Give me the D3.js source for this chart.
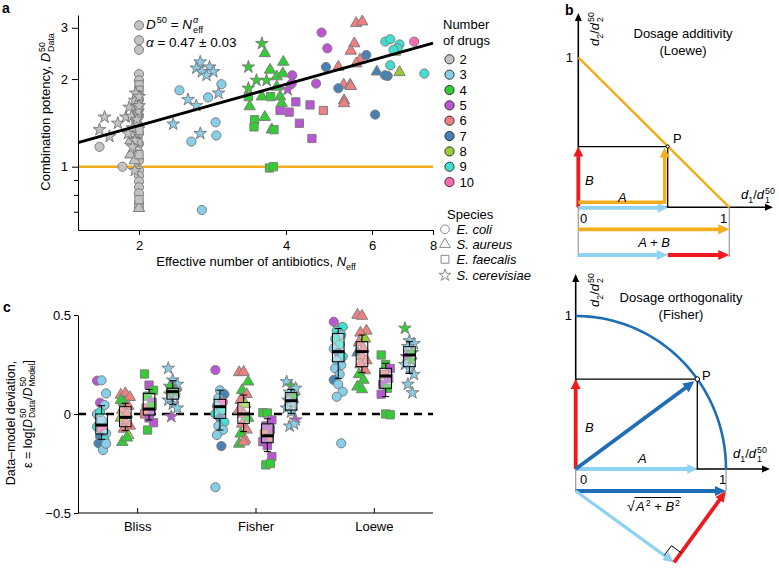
<!DOCTYPE html>
<html><head><meta charset="utf-8">
<script src="https://cdn.jsdelivr.net/npm/d3@7"></script>
<style>
body{margin:0;background:#fff}
svg{display:block}
text{font-family:"Liberation Sans",Arial,Helvetica,sans-serif;fill:#000}
</style>
</head><body>
<svg id="fig" width="779" height="568"></svg>
<script>
// ---------------- DATA ----------------
const drugCounts = [2,3,4,5,6,7,8,9,10];
const drugColors = ["#c2c2c2","#87ceeb","#32cd32","#ba55d3","#f08080","#4682b4","#9acd32","#40e0d0","#ff69b4"];
const speciesNames = ["E. coli","S. aureus","E. faecalis","S. cerevisiae"];
// species index: 0 circle, 1 triangle, 2 square, 3 star

// panel a: [N_eff, D50_data, species]
const potency2 = [
 [2.0,3.06,0],[2.0,2.72,0],[2.0,2.52,0],[2.0,2.08,0],[2.0,1.98,0],[1.99,1.62,0],[2.0,1.5,0],[1.98,1.38,0],[2.0,1.3,0],[2.0,1.2,0],[1.99,1.13,0],[2.0,1.05,0],[2.0,0.97,0],[2.0,0.93,0],[2.0,0.89,0],[2.0,0.85,0],[2.0,0.81,0],[2.0,0.75,0],[2.0,0.73,0],[1.85,1.0,0],[1.66,1.17,0],[1.96,1.25,0],[1.97,1.45,0],[2.0,1.7,0],
 [1.92,1.23,1],[1.92,1.10,1],[1.97,1.35,1],[1.95,1.30,1],[2.0,1.40,1],[1.98,1.55,1],[1.96,1.05,1],[2.0,0.72,1],
 [2.0,1.91,2],[2.0,1.83,2],[1.99,1.76,2],[2.0,1.60,2],[1.98,1.42,2],[2.0,1.33,2],[1.99,1.22,2],[2.0,1.10,2],[2.0,0.77,2],[1.99,1.50,2],
 [1.70,1.48,3],[1.66,1.34,3],[1.74,1.27,3],[1.81,1.41,3],[1.88,1.48,3],[1.93,1.49,3],[1.91,1.60,3],[1.96,1.69,3],[1.97,1.79,3],[2.0,1.74,3],[1.96,1.23,3],[1.96,0.97,3],[1.94,1.17,3],[1.99,1.55,3],[1.94,1.36,3],[1.90,1.30,3],[2.0,1.62,3],[1.98,1.45,3]
];
const potency3 = [
 [2.42,1.83,0],[2.95,1.92,0],[2.77,1.73,0],[2.87,1.42,0],[2.88,1.28,0],[2.56,1.22,0],[2.69,0.71,0],
 [2.67,2.29,3],[2.62,2.18,3],[2.69,2.12,3],[2.79,2.20,3],[2.84,2.12,3],[2.75,2.06,3],[2.52,1.70,3],[2.62,1.62,3],[2.91,1.79,3],[2.35,1.40,3],[2.67,1.30,3]
];
const potency4 = [
 [3.62,2.45,1],[3.95,2.29,1],[3.71,2.15,1],[3.83,2.04,1],[3.94,2.09,1],[3.57,1.74,1],[3.37,1.61,1],[3.62,1.48,1],[3.74,1.34,1],[3.89,1.74,1],[3.92,1.65,1],[3.83,1.88,1],
 [3.35,1.74,2],[3.45,1.45,2],[3.44,1.37,2],[3.72,1.74,2],[3.78,1.34,2],[3.70,0.99,2],[3.77,1.0,2],
 [3.57,2.65,3],[3.35,2.20,3],[3.35,1.86,3],[3.48,1.98,3],[3.65,1.98,3]
];
const potency5 = [
 [4.73,2.89,0],[4.86,2.55,0],[4.12,2.06,0],[4.11,1.93,0],[4.61,1.93,0],
 [3.89,1.56,2],[4.06,1.54,2],[4.19,1.67,2],[4.48,1.63,2],[4.26,1.41,2],[4.52,1.25,2],
 [4.03,1.84,3]
];
const potency6 = [
 [5.57,3.11,1],[5.73,3.15,1],[5.52,2.65,1],[5.43,2.50,1],[5.67,2.33,1],[5.57,2.26,1],[5.12,2.20,1],[5.25,1.91,1],[5.41,1.91,1],[5.43,1.89,1],[5.26,1.69,1],[5.26,1.65,1],
 [4.77,1.56,2]
];
const potency7 = [[4.83,2.20,0],[5.12,1.86,0],[5.84,2.42,0],[6.09,1.51,0],[6.46,2.05,0],[6.38,2.06,0],[6.14,2.12,1]];
const potency8 = [[6.69,2.48,1],[6.83,2.11,1]];
const potency9 = [[6.39,2.69,0],[6.54,2.74,0],[6.83,2.63,0],[6.77,2.55,0],[6.64,2.52,0],[6.54,2.23,0],[7.68,2.09,0]];
const potency10 = [[7.32,2.69,0]];
const fitAlpha = 0.47;
const xTicksA = [2,4,6,8];
const yTicksA = [1,2,3];
const yMinorA = [0.7,0.8,0.9];

// panel c: [deviation, number of drugs]
const methods = ["Bliss","Fisher","Loewe"];
const blissCircle = [[0.168,5],[0.17,3],[0.104,3],[0.057,5],[0.045,3],[-0.01,7],[-0.039,9],[-0.064,9],[-0.077,10],[-0.098,3],[-0.114,7],[-0.131,9],[-0.148,7],[-0.182,3],[0.0,3],[-0.03,3],[-0.15,3],[0.01,9]];
const blissTriangle = [[0.096,6],[0.104,6],[0.085,6],[0.06,4],[0.04,6],[0.02,6],[0.0,6],[-0.02,8],[-0.04,6],[-0.06,6],[-0.075,6],[-0.108,8],[-0.142,4],[-0.12,4],[0.07,4]];
const blissSquare = [[0.202,4],[0.146,5],[0.12,4],[0.09,4],[0.06,5],[0.03,6],[0.01,5],[0.0,6],[-0.02,5],[-0.044,5],[-0.081,4],[0.04,4]];
const blissStar = [[0.231,3],[0.171,3],[0.15,3],[0.13,4],[0.12,3],[0.1,4],[0.09,3],[0.07,3],[0.05,3],[0.03,3],[-0.013,5],[0.11,4],[0.14,4]];
const fisherCircle = [[0.222,5],[0.12,3],[0.10,7],[0.08,3],[0.06,10],[0.04,3],[0.02,9],[0.0,9],[-0.02,7],[-0.04,9],[-0.06,3],[-0.08,3],[-0.106,3],[-0.162,7],[-0.37,3]];
const fisherTriangle = [[0.21,6],[0.212,6],[0.163,4],[0.12,4],[0.1,6],[0.07,6],[0.05,8],[0.02,6],[0.0,6],[-0.02,4],[-0.05,6],[-0.08,6],[-0.1,4],[-0.13,6],[-0.151,4],[-0.14,6]];
const fisherSquare = [[0.007,4],[0.005,4],[-0.03,5],[-0.06,5],[-0.08,5],[-0.1,6],[-0.12,6],[-0.14,5],[-0.16,5],[-0.215,5],[-0.257,4],[-0.25,4]];
const fisherStar = [[0.163,3],[0.141,4],[0.13,3],[0.11,3],[0.09,4],[0.07,3],[0.05,3],[0.03,3],[0.01,3],[-0.03,5],[-0.061,3],[-0.05,3]];
const loeweCircle = [[0.466,5],[0.433,10],[0.44,9],[0.42,9],[0.40,3],[0.38,9],[0.35,9],[0.33,3],[0.31,7],[0.29,9],[0.27,3],[0.247,3],[0.23,3],[0.2,3],[0.172,7],[0.15,3],[0.113,3],[0.087,3],[-0.148,3]];
const loeweTriangle = [[0.50,6],[0.495,6],[0.42,6],[0.41,6],[0.38,8],[0.36,6],[0.33,6],[0.31,7],[0.29,6],[0.27,6],[0.25,6],[0.22,6],[0.2,4],[0.172,4],[0.138,4],[0.124,4]];
const loeweSquare = [[0.298,4],[0.25,4],[0.23,5],[0.2,6],[0.18,5],[0.15,5],[0.13,4],[0.10,5],[0.0,4],[-0.004,4]];
const loeweStar = [[0.433,4],[0.37,3],[0.355,3],[0.34,3],[0.31,4],[0.29,5],[0.27,4],[0.25,3],[0.23,3],[0.2,3],[0.15,3],[0.107,3]];
// box stats per species: [q1, median, q3, whiskerLow, whiskerHigh]
const blissBoxes = [[-0.101,-0.056,0.0,-0.128,0.042],[-0.064,-0.017,0.037,-0.084,0.054],[-0.005,0.025,0.104,-0.03,0.124],[0.075,0.113,0.13,0.049,0.168]];
const fisherBoxes = [[-0.022,0.037,0.074,-0.081,0.12],[-0.047,0.0,0.058,-0.089,0.096],[-0.145,-0.11,-0.05,-0.19,-0.024],[0.02,0.067,0.108,0.003,0.124]];
const loeweBoxes = [[0.264,0.315,0.407,0.18,0.432],[0.239,0.315,0.365,0.209,0.399],[0.13,0.192,0.231,0.088,0.256],[0.239,0.298,0.34,0.205,0.365]];
const yTicksC = [-0.5,0,0.5];

// panel b schematic values (unit dose coordinates)
const loeweP = [0.592,0.405];
const fisherAngleDeg = 36;

// ---------------- DRAWING ----------------
const svg = d3.select("#fig");
const symType = [d3.symbolCircle, d3.symbolTriangle, d3.symbolSquare, d3.symbolStar];
const symSize = [66, 56, 68, 50];
const colorOf = d3.scaleOrdinal().domain(drugCounts).range(drugColors);
const ORANGE = "#f2ad1d", RED = "#f0191e", LBLUE = "#8fd2f2", DBLUE = "#1f6db4";

function rich(g, parts, x, y, opts) {
  const size = opts.size || 12;
  const grp = g.append("g").attr("transform", `translate(${x},${y})` + (opts.rotate ? ` rotate(${opts.rotate})` : ""));
  const inner = grp.append("g");
  let cx = 0, pend = 0;
  parts.forEach(p => {
    const fs = (p.sup || p.sub) ? size * 0.68 : size;
    const dy = p.sup ? -size * 0.42 : (p.sub ? size * 0.3 : 0);
    const t = inner.append("text").attr("x", cx).attr("y", dy).attr("font-size", fs)
      .style("white-space", "pre").text(p.t);
    if (p.i) t.attr("font-style", "italic");
    if (p.b) t.attr("font-weight", "bold");
    const w = t.node().getComputedTextLength() + (p.gap || 0);
    if (p.stack) pend = Math.max(pend, w);
    else { cx += Math.max(w, pend); pend = 0; }
  });
  const a = opts.anchor || "start";
  const shift = a === "middle" ? -cx / 2 : (a === "end" ? -cx : 0);
  inner.attr("transform", `translate(${shift},0)`);
  return cx;
}
function label(g, t, x, y, o = {}) {
  const e = g.append("text").attr("x", x).attr("y", y).attr("font-size", o.size || 13)
    .attr("text-anchor", o.anchor || "start").text(t);
  if (o.i) e.attr("font-style", "italic");
  if (o.b) e.attr("font-weight", "bold");
  return e;
}
function arrow(g, x1, y1, x2, y2, color, w, hl, hw) {
  const dx = x2 - x1, dy = y2 - y1, L = Math.hypot(dx, dy), ux = dx / L, uy = dy / L;
  const bx = x2 - ux * hl, by = y2 - uy * hl;
  g.append("line").attr("x1", x1).attr("y1", y1).attr("x2", bx + ux).attr("y2", by + uy)
    .attr("stroke", color).attr("stroke-width", w);
  g.append("path").attr("d", `M${x2},${y2}L${bx - uy * hw / 2},${by + ux * hw / 2}L${bx + uy * hw / 2},${by - ux * hw / 2}Z`)
    .attr("fill", color);
}
function styleAxis(g) {
  g.attr("font-size", 13).attr("font-family", '"Liberation Sans",Arial,sans-serif');
  g.selectAll("path,line").attr("stroke", "#000").attr("stroke-width", 1);
}

// ===== Panel a =====
const ga = svg.append("g");
const xA = d3.scaleLog().domain([1.5, 8]).range([78, 433]);
const yA = d3.scaleLog().domain([0.606, 3.32]).range([230, 15]);

label(ga, "a", 2, 13, {b: 1, size: 14});

// reference line at 1
ga.append("line").attr("x1", xA(1.5)).attr("x2", xA(8)).attr("y1", yA(1)).attr("y2", yA(1))
  .attr("stroke", ORANGE).attr("stroke-width", 2.5);

const allA = [potency2, potency3, potency4, potency5, potency6, potency7, potency8, potency9, potency10]
  .flatMap((arr, k) => arr.map(d => ({x: d[0], y: d[1], sp: d[2], n: drugCounts[k]})));
ga.selectAll("path.pt").data(allA).join("path").attr("class", "pt")
  .attr("transform", d => `translate(${xA(d.x)},${yA(d.y)})`)
  .attr("d", d => d3.symbol(symType[d.sp], symSize[d.sp])())
  .attr("fill", d => colorOf(d.n)).attr("stroke", "#7d7d7d").attr("stroke-width", 1);

// fit line
const fitX = [1.5, 8];
ga.append("path").datum(fitX)
  .attr("d", d3.line().x(v => xA(v)).y(v => yA(Math.pow(v, fitAlpha))))
  .attr("stroke", "#000").attr("stroke-width", 3).attr("fill", "none");

// axes
const axA_x = ga.append("g").attr("transform", "translate(0,230)")
  .call(d3.axisBottom(xA).tickValues(xTicksA).tickFormat(d3.format("d")).tickSize(5).tickSizeOuter(0).tickPadding(6));
styleAxis(axA_x);
const axA_y = ga.append("g").attr("transform", "translate(78,0)")
  .call(d3.axisLeft(yA).tickValues(yTicksA.concat(yMinorA)).tickFormat(d => yTicksA.includes(d) ? d : "").tickSize(6).tickSizeOuter(0).tickPadding(4));
styleAxis(axA_y);
axA_y.selectAll(".tick").filter(d => yMinorA.includes(d)).select("line").attr("x2", -4);

rich(ga, [{t: "Effective number of antibiotics, "}, {t: "N", i: 1}, {t: "eff", sub: 1}], 256, 266, {size: 13, anchor: "middle"});
rich(ga, [{t: "Combination potency, "}, {t: "D", i: 1, gap: 1}, {t: "50", sup: 1, stack: 1}, {t: "Data", sub: 1}], 50, 112, {size: 13, anchor: "middle", rotate: -90});

rich(ga, [{t: "D", i: 1, gap: 1}, {t: "50", sup: 1}, {t: "\u00a0=\u00a0"}, {t: "N", i: 1, gap: 1}, {t: "α", sup: 1, i: 1, stack: 1}, {t: "eff", sub: 1}], 146, 29, {size: 13.5});
rich(ga, [{t: "α", i: 1}, {t: "\u00a0=\u00a00.47\u00a0±\u00a00.03"}], 146, 47, {size: 13.5});

// legends
const lg = svg.append("g");
label(lg, "Number", 443, 29, {size: 13});
label(lg, "of drugs", 443, 44.5, {size: 13});
drugCounts.forEach((n, i) => {
  const y = 59.3 + i * 15.35;
  lg.append("circle").attr("cx", 449.5).attr("cy", y).attr("r", 4.6).attr("fill", colorOf(n)).attr("stroke", "#222").attr("stroke-width", 0.9);
  label(lg, String(n), 459.5, y + 4.6, {size: 13});
});
label(lg, "Species", 447, 218.5, {size: 13});
speciesNames.forEach((s, i) => {
  const y = [229.3, 244.3, 259.3, 275.3][i];
  lg.append("path").attr("transform", `translate(445,${y})`).attr("d", d3.symbol(symType[i], symSize[i] * 0.9)())
    .attr("fill", "none").attr("stroke", "#8a8a8a").attr("stroke-width", 1);
  label(lg, s, 456.5, y + 4.6, {size: 13, i: 1});
});

// ===== Panel b (Loewe) =====
const gb = svg.append("g");
label(gb, "b", 565, 15, {b: 1, size: 14});
const bx = d3.scaleLinear().domain([0, 1]).range([578.3, 729.3]);
const by = d3.scaleLinear().domain([0, 1]).range([207.3, 57.3]);
const px = bx(loeweP[0]), py = by(loeweP[1]);
// axes
arrow(gb, bx(0), by(0) + 0.5, bx(0), 13, "#000", 1.6, 8, 7);
arrow(gb, bx(0), by(0), 773, by(0), "#000", 1.6, 8, 7);
gb.append("line").attr("x1", bx(0)).attr("x2", px).attr("y1", py).attr("y2", py).attr("stroke", "#000").attr("stroke-width", 1.3);
gb.append("line").attr("x1", px).attr("x2", px).attr("y1", py).attr("y2", by(0)).attr("stroke", "#000").attr("stroke-width", 1.3);
gb.append("line").attr("x1", bx(0)).attr("y1", by(1)).attr("x2", bx(1)).attr("y2", by(0)).attr("stroke", ORANGE).attr("stroke-width", 2.5);
arrow(gb, bx(0), by(0), bx(0), py, RED, 3.8, 10, 10);
arrow(gb, bx(0), by(0) + 0.5, px, by(0) + 0.5, LBLUE, 3.8, 10, 10);
gb.append("line").attr("x1", bx(0)).attr("x2", px - 3).attr("y1", by(0) - 5).attr("y2", by(0) - 5).attr("stroke", ORANGE).attr("stroke-width", 3.5);
arrow(gb, px - 3, by(0) - 3.5, px - 3, py + 1, ORANGE, 3.5, 10, 10);
gb.append("circle").attr("cx", px).attr("cy", py).attr("r", 1.6).attr("fill", "#fff").attr("stroke", "#000").attr("stroke-width", 1);
[0, 1].forEach(v => gb.append("line").attr("x1", bx(v)).attr("x2", bx(v)).attr("y1", by(0)).attr("y2", 257).attr("stroke", "#9a9a9a").attr("stroke-width", 1.2));
arrow(gb, bx(0), 229.3, bx(1), 229.3, ORANGE, 3.8, 11, 10);
arrow(gb, bx(0), 255, px, 255, LBLUE, 3.8, 11, 10);
arrow(gb, px, 255, bx(1), 255, RED, 3.8, 11, 10);
label(gb, "Dosage additivity", 683, 38, {anchor: "middle", size: 13});
label(gb, "(Loewe)", 683, 55, {anchor: "middle", size: 13});
label(gb, "1", 573, 62, {anchor: "end", size: 13});
label(gb, "0", 580, 223, {size: 13});
label(gb, "1", 720, 223, {size: 13});
label(gb, "P", 673, 143, {size: 13});
label(gb, "B", 585, 185, {size: 13, i: 1});
label(gb, "A", 618, 202, {size: 13, i: 1});
label(gb, "A + B", 654, 247, {size: 13, i: 1, anchor: "middle"});
rich(gb, [{t: "d", i: 1}, {t: "1", sub: 1}, {t: "/"}, {t: "d", i: 1, gap: 1}, {t: "50", sup: 1, stack: 1}, {t: "1", sub: 1}], 741, 199, {size: 13});
rich(gb, [{t: "d", i: 1}, {t: "2", sub: 1}, {t: "/"}, {t: "d", i: 1, gap: 1}, {t: "50", sup: 1, stack: 1}, {t: "2", sub: 1}], 599, 46, {size: 13, rotate: -90});

// ===== Panel b (Fisher) =====
const gf = svg.append("g");
const fx = d3.scaleLinear().domain([0, 1]).range([575.7, 726]);
const fy = d3.scaleLinear().domain([0, 1]).range([469, 316]);
const th = fisherAngleDeg * Math.PI / 180;
const fA = Math.cos(th), fB = Math.sin(th);
const qx = fx(fA), qy = fy(fB);
arrow(gf, fx(0), fy(0) + 0.5, fx(0), 274, "#000", 1.6, 8, 7);
arrow(gf, fx(0), fy(0), 770, fy(0), "#000", 1.6, 8, 7);
const angs = d3.range(0, 91, 1).map(a => a * Math.PI / 180);
gf.append("path").datum(angs).attr("d", d3.line().x(a => fx(Math.cos(a))).y(a => fy(Math.sin(a))))
  .attr("fill", "none").attr("stroke", DBLUE).attr("stroke-width", 2.6);
gf.append("line").attr("x1", fx(0)).attr("x2", qx).attr("y1", qy).attr("y2", qy).attr("stroke", "#000").attr("stroke-width", 1.3);
gf.append("line").attr("x1", qx).attr("x2", qx).attr("y1", qy).attr("y2", fy(0)).attr("stroke", "#000").attr("stroke-width", 1.3);
arrow(gf, fx(0), fy(0), fx(0), qy, RED, 3.8, 10, 10);
arrow(gf, fx(0), fy(0), qx, fy(0), LBLUE, 3.8, 10, 10);
arrow(gf, fx(0), fy(0), qx - 3, qy + 2.2, DBLUE, 3.8, 11, 11);
gf.append("circle").attr("cx", qx).attr("cy", qy).attr("r", 2.3).attr("fill", "#fff").attr("stroke", "#000").attr("stroke-width", 1);
[0, 1].forEach(v => gf.append("line").attr("x1", fx(v)).attr("x2", fx(v)).attr("y1", fy(0)).attr("y2", 491).attr("stroke", "#9a9a9a").attr("stroke-width", 1.2));
const baseY = 491, unit = fx(1) - fx(0);
arrow(gf, fx(0), baseY, fx(1), baseY, DBLUE, 3.8, 11, 10);
const vx = fx(0) + fA * unit * Math.cos(th), vy = baseY + fA * unit * Math.sin(th);
arrow(gf, fx(0), baseY, vx, vy, LBLUE, 3.2, 11, 10);
arrow(gf, vx, vy, fx(1), baseY, RED, 3.8, 11, 10);
// right angle mark
const u1 = [Math.cos(th), Math.sin(th)], u2 = [Math.sin(th), -Math.cos(th)], s = 12;
gf.append("path").attr("d", `M${vx - u1[0] * s},${vy - u1[1] * s}L${vx - u1[0] * s + u2[0] * s},${vy - u1[1] * s + u2[1] * s}L${vx + u2[0] * s},${vy + u2[1] * s}`)
  .attr("fill", "none").attr("stroke", "#000").attr("stroke-width", 1);
label(gf, "Dosage orthogonality", 681, 302, {anchor: "middle", size: 13});
label(gf, "(Fisher)", 681, 319, {anchor: "middle", size: 13});
label(gf, "1", 572, 320, {anchor: "end", size: 13});
label(gf, "0", 580, 484, {size: 13});
label(gf, "1", 719, 484, {size: 13});
label(gf, "P", 702, 380, {size: 13});
label(gf, "B", 585, 432, {size: 13, i: 1});
label(gf, "A", 638, 463, {size: 13, i: 1});
rich(gf, [{t: "d", i: 1}, {t: "1", sub: 1}, {t: "/"}, {t: "d", i: 1, gap: 1}, {t: "50", sup: 1, stack: 1}, {t: "1", sub: 1}], 733, 458, {size: 13});
rich(gf, [{t: "d", i: 1}, {t: "2", sub: 1}, {t: "/"}, {t: "d", i: 1, gap: 1}, {t: "50", sup: 1, stack: 1}, {t: "2", sub: 1}], 599, 307, {size: 13, rotate: -90});
// sqrt(A^2 + B^2)
const sq = gf.append("g");
label(sq, "√", 627, 511, {size: 14});
const wR = rich(sq, [{t: "A", i: 1, gap: 1}, {t: "2", sup: 1}, {t: "\u00a0+\u00a0"}, {t: "B", i: 1, gap: 1}, {t: "2", sup: 1}], 636, 511, {size: 13});
sq.append("line").attr("x1", 634.5).attr("x2", 636 + wR + 1).attr("y1", 497.5).attr("y2", 497.5).attr("stroke", "#000").attr("stroke-width", 1);

// ===== Panel c =====
const gc = svg.append("g");
label(gc, "c", 3, 312, {b: 1, size: 14});
const xC = d3.scalePoint().domain(methods).range([78, 433]).padding(0.5);
const spOff = d3.scalePoint().domain([0, 1, 2, 3]).range([-35.6, 35.6]);
const yC = d3.scaleLinear().domain([-0.5, 0.5]).range([513, 315]);

gc.append("line").attr("x1", 78).attr("x2", 433).attr("y1", yC(0)).attr("y2", yC(0))
  .attr("stroke", "#000").attr("stroke-width", 2.6).attr("stroke-dasharray", "8,6");

const groupsC = {
  Bliss: [blissCircle, blissTriangle, blissSquare, blissStar],
  Fisher: [fisherCircle, fisherTriangle, fisherSquare, fisherStar],
  Loewe: [loeweCircle, loeweTriangle, loeweSquare, loeweStar]
};
const boxesC = {Bliss: blissBoxes, Fisher: fisherBoxes, Loewe: loeweBoxes};
methods.forEach(m => {
  groupsC[m].forEach((arr, sp) => {
    const cx = xC(m) + spOff(sp);
    gc.selectAll(null).data(arr).join("path")
      .attr("transform", (d, i) => `translate(${cx + (((i * 3) % 7) - 3) * 1.5},${yC(d[0])})`)
      .attr("d", d3.symbol(symType[sp], symSize[sp])())
      .attr("fill", d => colorOf(d[1])).attr("stroke", "#7d7d7d").attr("stroke-width", 1);
  });
  boxesC[m].forEach((b, sp) => {
    const cx = xC(m) + spOff(sp), hw = 5.8;
    const g = gc.append("g");
    g.append("line").attr("x1", cx).attr("x2", cx).attr("y1", yC(b[3])).attr("y2", yC(b[0])).attr("stroke", "#000").attr("stroke-width", 1);
    g.append("line").attr("x1", cx).attr("x2", cx).attr("y1", yC(b[2])).attr("y2", yC(b[4])).attr("stroke", "#000").attr("stroke-width", 1);
    [b[3], b[4]].forEach(v => g.append("line").attr("x1", cx - 3.5).attr("x2", cx + 3.5).attr("y1", yC(v)).attr("y2", yC(v)).attr("stroke", "#000").attr("stroke-width", 1));
    g.append("rect").attr("x", cx - hw).attr("width", hw * 2).attr("y", yC(b[2])).attr("height", yC(b[0]) - yC(b[2]))
      .attr("fill", "rgba(255,255,255,0.3)").attr("stroke", "#000").attr("stroke-width", 1);
    g.append("line").attr("x1", cx - hw - 0.5).attr("x2", cx + hw + 0.5).attr("y1", yC(b[1])).attr("y2", yC(b[1])).attr("stroke", "#000").attr("stroke-width", 3);
  });
});

const axC_y = gc.append("g").attr("transform", "translate(78,0)")
  .call(d3.axisLeft(yC).tickValues(yTicksC).tickFormat(d => d === 0 ? "0" : (d < 0 ? "−0.5" : "0.5")).tickSize(4).tickSizeOuter(0).tickPadding(3));
styleAxis(axC_y);
const axC_x = gc.append("g").attr("transform", "translate(0,513)")
  .call(d3.axisBottom(xC).tickSize(-5).tickSizeOuter(0).tickPadding(8.5));
styleAxis(axC_x);
axC_x.select(".domain").attr("d", "M78,0H433");

label(gc, "Data–model deviation,", 14.5, 423, {anchor: "middle", size: 12.5}).attr("transform", "rotate(-90,14.5,423)");
rich(gc, [{t: "ε = log["}, {t: "D", i: 1, gap: 1}, {t: "50", sup: 1, stack: 1}, {t: "Data", sub: 1}, {t: "/"}, {t: "D", i: 1, gap: 1}, {t: "50", sup: 1, stack: 1}, {t: "Model", sub: 1}, {t: "]"}],
  31.5, 414, {size: 12.5, anchor: "middle", rotate: -90});
</script>
</body></html>
